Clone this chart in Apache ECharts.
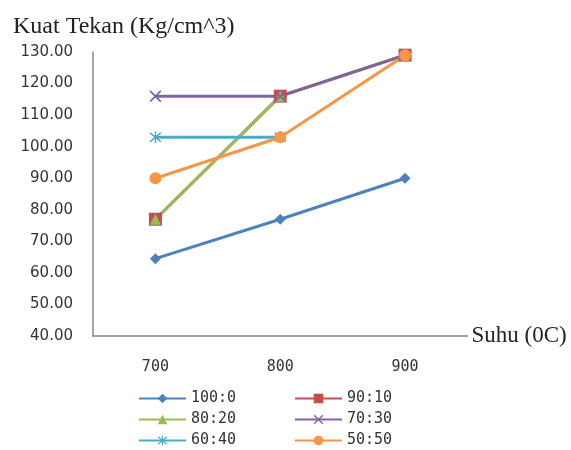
<!DOCTYPE html>
<html><head><meta charset="utf-8">
<script src="https://cdn.jsdelivr.net/npm/echarts@6/dist/echarts.min.js"></script>
<style>html,body{margin:0;padding:0;background:#fff}#c{width:571px;height:450px}</style>
</head><body><div id="c"></div>
<script>
const categories = ['700', '800', '900'];
const seriesNames = ['100:0', '90:10', '80:20', '70:30', '60:40', '50:50'];
const s100_0 = [64.5, 77, 90];
const s90_10 = [77, 116, 129];
const s80_20 = [77, 116, 129];
const s70_30 = [116, 116, 129];
const s60_40 = [103, 103, null];
const s50_50 = [90, 103, 129];
const yTicks = [40, 50, 60, 70, 80, 90, 100, 110, 120, 130];

const colors = ['#4F81BD', '#C0504D', '#9BBB59', '#8064A2', '#4BACC6', '#F79646'];
const xPath = 'path://M0,1L1,0L5,4L9,0L10,1L6,5L10,9L9,10L5,6L1,10L0,9L4,5Z';
const starPath = 'path://M0,1L1,0L5,4L9,0L10,1L6,5L10,9L9,10L5,6L1,10L0,9L4,5ZM4.4,-1L5.6,-1L5.6,11L4.4,11Z';
const symbols = ['diamond', 'rect', 'triangle', xPath, starPath, 'circle'];
const sizes = [11, 13, 11, 12, 12, 12];
const dataAll = [s100_0, s90_10, s80_20, s70_30, s60_40, s50_50];

const chart = echarts.init(document.getElementById('c'));
const legendPos = [[133, 386], [289, 386], [133, 407], [289, 407], [133, 428], [289, 428]];
const legends = seriesNames.map((n, i) => ({
  data: [n], left: legendPos[i][0], top: legendPos[i][1],
  itemWidth: 47, itemHeight: 12, itemGap: 0,
  textStyle: { fontFamily: 'DejaVu Sans Mono', fontSize: 15, color: '#333' }
}));
chart.setOption({
  animation: false,
  title: { text: 'Kuat Tekan (Kg/cm^3)', left: 8, top: 10,
    textStyle: { fontFamily: 'Liberation Serif', fontSize: 24, fontWeight: 'normal', color: '#222' } },
  legend: legends,
  grid: { left: 93, right: 103.5, top: 52, bottom: 114, containLabel: false },
  xAxis: {
    type: 'category', data: categories, boundaryGap: true,
    name: 'Suhu (0C)', nameLocation: 'end', nameGap: 4,
    nameTextStyle: { fontFamily: 'Liberation Serif', fontSize: 23, color: '#222', verticalAlign: 'middle' },
    axisLine: { lineStyle: { color: '#888', width: 1.5 } },
    axisTick: { show: false },
    axisLabel: { fontFamily: 'DejaVu Sans Mono', fontSize: 15, color: '#333', margin: 24 }
  },
  yAxis: {
    type: 'value', min: 40, max: 130, interval: 10,
    axisLine: { show: true, lineStyle: { color: '#888', width: 1.5 } },
    axisTick: { show: false },
    splitLine: { show: false },
    axisLabel: { fontFamily: 'DejaVu Sans', fontSize: 15, color: '#333', margin: 20,
      formatter: v => v.toFixed(2) }
  },
  series: seriesNames.map((n, i) => ({
    name: n, type: 'line', data: dataAll[i],
    symbol: symbols[i], symbolSize: sizes[i], showSymbol: true,
    lineStyle: { color: colors[i], width: 3 },
    itemStyle: { color: colors[i] },
    connectNulls: false
  }))
});
</script></body></html>
